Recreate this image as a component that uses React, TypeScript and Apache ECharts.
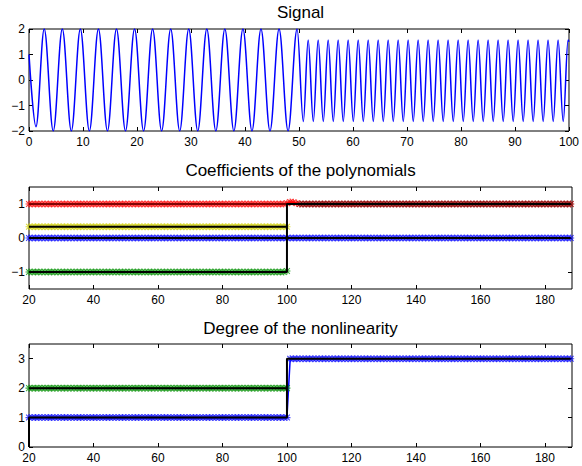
import React, { useEffect, useRef } from 'react';
import * as echarts from 'echarts';

// ---- Signal (extrema) ----
const signalTimes = [
  0, 1.29, 2.82, 4.49, 6.17, 7.84, 9.51, 11.18, 12.86, 14.53, 16.2, 17.87, 19.55, 21.22, 22.89, 24.56,
  26.24, 27.91, 29.58, 31.25, 32.93, 34.6, 36.27, 37.94, 39.62, 41.29, 42.96, 44.63, 46.31, 47.98, 49.65,
  50.8, 51.7, 52.65, 53.55, 54.5, 55.4, 56.35, 57.25, 58.2, 59.1, 60.06, 60.96, 61.91, 62.81, 63.76,
  64.66, 65.61, 66.51, 67.46, 68.36, 69.31, 70.21, 71.16, 72.06, 73.01, 73.91, 74.86, 75.76, 76.71,
  77.61, 78.57, 79.47, 80.42, 81.32, 82.27, 83.17, 84.12, 85.02, 85.97, 86.87, 87.82, 88.72, 89.67,
  90.57, 91.52, 92.42, 93.37, 94.27, 95.22, 96.12, 97.08, 97.98, 98.93, 99.83, 100,
];
const signalValues = [
  1, -1.83, 2, -2, 2, -2, 2, -2, 2, -2, 2, -2, 2, -2, 2, -2,
  2, -2, 2, -2, 2, -2, 2, -2, 2, -2, 2, -2, 2, -2, 2,
  -1.63, 1.57, -1.63, 1.57, -1.63, 1.57, -1.63, 1.57, -1.63, 1.57, -1.63, 1.57, -1.63, 1.57, -1.63,
  1.57, -1.63, 1.57, -1.63, 1.57, -1.63, 1.57, -1.63, 1.57, -1.63, 1.57, -1.63, 1.57, -1.63,
  1.57, -1.63, 1.57, -1.63, 1.57, -1.63, 1.57, -1.63, 1.57, -1.63, 1.57, -1.63, 1.57, -1.63,
  1.57, -1.63, 1.57, -1.63, 1.57, -1.63, 1.57, -1.63, 1.57, -1.63, 1.57, 1.5,
];
const signalXTicks = [0, 10, 20, 30, 40, 50, 60, 70, 80, 90, 100];
const signalYTicks = [-2, -1, 0, 1, 2];

// ---- Estimation time index ----
const estXTicks = [20, 40, 60, 80, 100, 120, 140, 160, 180];

// Coefficients: run-length [value, number of samples], one sample per unit from the given start
const redCoefRuns = [[1, 80], [1.02, 1], [1.06, 1], [1.05, 1], [1.02, 1], [1, 85]];
const yellowCoefRuns = [[0.33, 81]];
const greenCoefRuns = [[-1, 80], [-0.97, 1]];
const blueCoefRuns = [[0, 169]];
const darkCoefRuns = [[1, 85]]; // dark estimate overlapping the red one after t = 104
// true coefficients: [points, line width]
const trueCoefLines: [number[][], number][] = [
  [[[20, 1], [100, 1]], 1],
  [[[20, 0.33], [100, 0.33]], 2],
  [[[20, 0], [188, 0]], 2],
  [[[20, -1], [100, -1], [100, 1], [188, 1]], 2],
];
const coefYTicks = [-1, 0, 1];

// Degree of the nonlinearity
const greenDegRuns = [[2, 81]];
const blueDegRuns = [[1, 81], [3, 88]];
const trueDegLines: [number[][], number][] = [
  [[[20, 2], [100, 2]], 2],
  [[[20, 0], [20, 1], [100, 1], [100, 3], [188, 3]], 2],
];
const degYTicks = [0, 1, 2, 3];

const STAR =
  'path://M4.2,0H5.8V10H4.2Z M0,4.2H10V5.8H0Z M1.4,0.3L9.7,8.6L8.6,9.7L0.3,1.4Z M8.6,0.3L9.7,1.4L1.4,9.7L0.3,8.6Z';
const FONT = 'Liberation Sans, Arial, Helvetica, sans-serif';

function expandRuns(runs: number[][], start: number) {
  const out: number[][] = [];
  let t = start;
  runs.forEach(([v, n]) => {
    for (let i = 0; i < n; i++) {
      out.push([t, v]);
      t += 1;
    }
  });
  return out;
}

const fmt = (v: number) => String(v).replace('-', '\u2212');

function xAxes(grid: number, min: number, max: number, ticks: number[]) {
  const base = {
    type: 'value',
    gridIndex: grid,
    min,
    max,
    splitLine: { show: false },
    axisLine: { show: false, onZero: false },
    axisTick: { show: true, inside: true, length: 4, customValues: ticks, lineStyle: { color: '#000', width: 1 } },
  };
  return [
    {
      ...base,
      position: 'bottom',
      axisLabel: { show: true, customValues: ticks, formatter: fmt, margin: 5, fontSize: 12, color: '#000', fontFamily: FONT },
    },
    { ...base, position: 'top', axisLabel: { show: false } },
  ];
}

function yAxes(grid: number, min: number, max: number, ticks: number[]) {
  const base = {
    type: 'value',
    gridIndex: grid,
    min,
    max,
    splitLine: { show: false },
    axisLine: { show: false, onZero: false },
    axisTick: { show: true, inside: true, length: 4, customValues: ticks, lineStyle: { color: '#000', width: 1 } },
  };
  return [
    {
      ...base,
      position: 'left',
      axisLabel: { show: true, customValues: ticks, formatter: fmt, margin: 4, fontSize: 12, color: '#000', fontFamily: FONT },
    },
    { ...base, position: 'right', axisLabel: { show: false } },
  ];
}

function estSeries(runs: number[][], color: string, axis: number, start = 20, opacity = 0.75) {
  return {
    type: 'line',
    xAxisIndex: axis,
    yAxisIndex: axis,
    data: expandRuns(runs, start),
    symbol: STAR,
    symbolSize: 7,
    showSymbol: true,
    itemStyle: { color, opacity },
    lineStyle: { color, width: 1.5 },
    clip: false,
    z: 2,
  };
}

function trueSeries([points, width]: [number[][], number], axis: number) {
  return {
    type: 'line',
    xAxisIndex: axis,
    yAxisIndex: axis,
    data: points,
    showSymbol: false,
    symbol: 'none',
    lineStyle: { color: '#000', width },
    z: 3,
  };
}

export default function App() {
  const ref = useRef<HTMLDivElement>(null);
  useEffect(() => {
    if (!ref.current) return;
    const chart = echarts.init(ref.current, undefined, { renderer: 'svg' });
    const grids = [
      { left: 29, width: 543, top: 29, height: 102 },
      { left: 29, width: 543, top: 187, height: 102 },
      { left: 29, width: 543, top: 344, height: 103 },
    ].map((g) => ({ ...g, show: true, borderColor: '#000', borderWidth: 1, backgroundColor: '#fff' }));

    const titleFont = `17px ${FONT}`;
    const option: any = {
      animation: false,
      backgroundColor: '#fff',
      grid: grids,
      xAxis: [
        ...xAxes(0, 0, 100, signalXTicks),
        ...xAxes(1, 20, 188.4, estXTicks),
        ...xAxes(2, 20, 188.4, estXTicks),
      ],
      yAxis: [
        ...yAxes(0, -2, 2, signalYTicks),
        ...yAxes(1, -1.5, 1.5, coefYTicks),
        ...yAxes(2, 0, 3.5, degYTicks),
      ],
      graphic: [
        { type: 'text', x: 300.5, y: 12, style: { text: 'Signal', fill: '#000', font: titleFont, align: 'center', verticalAlign: 'middle' } },
        { type: 'text', x: 300.5, y: 170, style: { text: 'Coefficients of the polynomials', fill: '#000', font: titleFont, align: 'center', verticalAlign: 'middle' } },
        { type: 'text', x: 300.5, y: 328.5, style: { text: 'Degree of the nonlinearity', fill: '#000', font: titleFont, align: 'center', verticalAlign: 'middle' } },
      ],
      series: [
        {
          type: 'line',
          xAxisIndex: 0,
          yAxisIndex: 0,
          data: signalTimes.map((t, i) => [t, signalValues[i]]),
          showSymbol: false,
          symbol: 'none',
          smooth: 0.36,
          smoothMonotone: 'x',
          lineStyle: { color: '#0000ff', width: 1.5 },
        },
        estSeries(redCoefRuns, '#ff0000', 2),
        estSeries(darkCoefRuns, '#401010', 2, 104, 0.45),
        estSeries(yellowCoefRuns, '#d0d000', 2),
        estSeries(greenCoefRuns, '#009000', 2),
        estSeries(blueCoefRuns, '#0000ff', 2),
        ...trueCoefLines.map((p) => trueSeries(p, 2)),
        estSeries(greenDegRuns, '#009000', 4),
        estSeries(blueDegRuns, '#0000ff', 4),
        ...trueDegLines.map((p) => trueSeries(p, 4)),
      ],
    };
    chart.setOption(option);
    return () => chart.dispose();
  }, []);
  return <div ref={ref} style={{ position: 'fixed', left: 0, top: 0, width: 582, height: 466 }} />;
}
